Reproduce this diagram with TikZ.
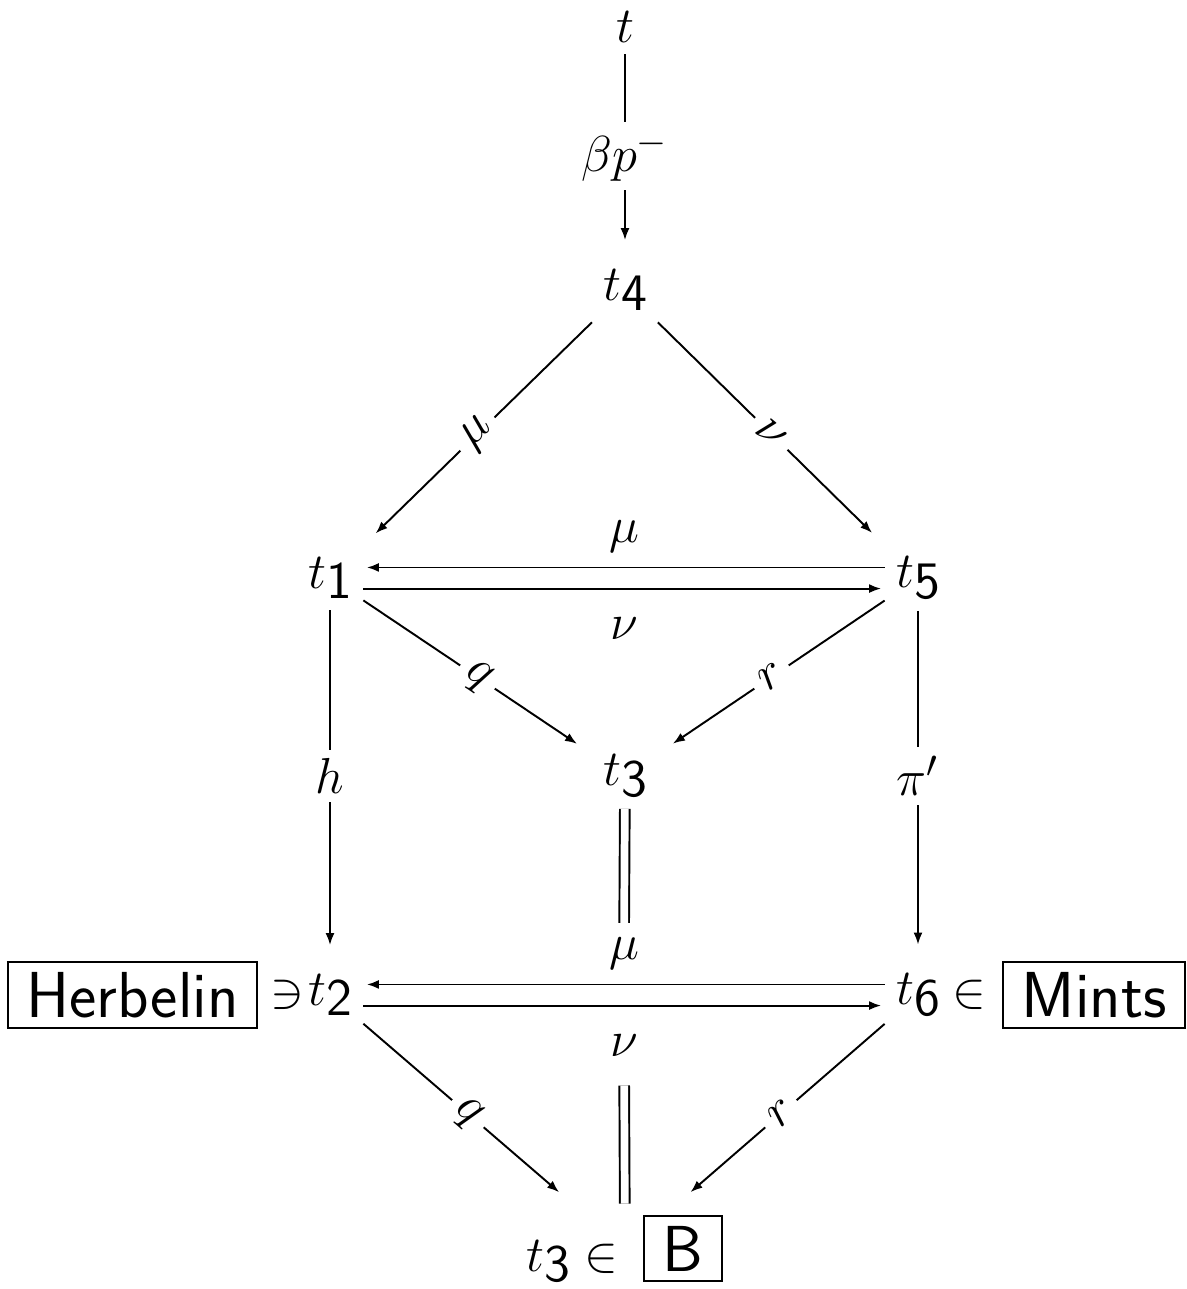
\documentclass[tikz,border=0pt]{standalone}
\usepackage{amsmath,amssymb}
\usepackage{xcolor}
\usepackage{tikz}
\usetikzlibrary{arrows.meta,positioning}

\newcommand{\dg}[1]{\raisebox{-0.2em}{\textsf{#1}}}
\newcommand{\bx}[1]{{\setlength{\fboxsep}{2.5pt}\setlength{\fboxrule}{0.6pt}\fbox{\hspace{2.5pt}\fontsize{18.5}{21}\sffamily #1\hspace{2.5pt}}}}

\begin{document}
\begin{tikzpicture}[
    every node/.style={font=\fontsize{15}{18}\selectfont},
    term/.style={inner sep=3pt},
    lab/.style={fill=white, inner sep=2.5pt},
    arr/.style={->, shorten >=5pt},
    dbl/.style={double, double distance=2.2pt},
    line width=0.55pt,
    >={Latex[length=1.2mm,width=0.9mm]}
]
\useasboundingbox (0,0) rectangle (11.87,-12.89);

% terms
\node[term] (t)   at (6.25,-0.27) {$t$};
\node[term] (t4)  at (6.25,-2.90) {$t\dg{4}$};
\node[term] (t1)  at (3.30,-5.78) {$t\dg{1}$};
\node[term] (t5)  at (9.18,-5.78) {$t\dg{5}$};
\node[term] (t3)  at (6.25,-7.76) {$t\dg{3}$};
\node[term] (t2)  at (3.30,-9.95) {$t\dg{2}$};
\node[term] (t6)  at (9.18,-9.95) {$t\dg{6}$};
\node[term] (t3b) at (6.25,-12.49) {$t\dg{3}\in{}$\hspace{3pt}\bx{B}};

% boxed systems
\node[inner xsep=0pt, left=-2.5pt of t2] (ni) {$\ni$};
\node[inner sep=0pt, left=3pt of ni] (herb) {\bx{Herbelin}};
\node[inner xsep=0pt, right=0pt of t6] (in) {$\in$};
\node[inner sep=0pt, right=4pt of in] (mints) {\bx{Mints}};

% arrows
\draw[arr] (t) -- node[lab] (bp) {$\beta p^-$} (t4);
\draw[arr] (t4) -- node[lab, sloped] (m1) {$\mu$} (t1);
\draw[arr] (t4) -- node[lab, sloped] (n1) {$\nu$} (t5);
\draw[arr, shorten >=1pt] ([yshift=3pt]t5.west) -- node[above, inner sep=4pt] (m2) {$\mu$} ([yshift=3pt]t1.east);
\draw[arr, shorten >=1pt] ([yshift=-3pt]t1.east) -- node[below, inner sep=8pt] (n2) {$\nu$} ([yshift=-3pt]t5.west);
\draw[arr] (t1) -- node[lab, sloped] (q1) {$q$} (t3);
\draw[arr] (t5) -- node[lab, sloped] (r1) {$r$} (t3);
\draw[arr] (t1) -- node[lab, pos=0.47] (h) {$h$} (t2);
\draw[arr] (t5) -- node[lab, pos=0.47] (pi) {$\pi'$} (t6);
\draw[arr, shorten >=1pt] ([yshift=3pt]t6.west) -- node[above, inner sep=4pt] (m3) {$\mu$} ([yshift=3pt]t2.east);
\draw[arr, shorten >=1pt] ([yshift=-3pt]t2.east) -- node[below, inner sep=8pt] (n3) {$\nu$} ([yshift=-3pt]t6.west);
\draw[arr] (t2) -- node[lab, sloped] (q2) {$q$} (t3b);
\draw[arr] (t6) -- node[lab, sloped] (r2) {$r$} (t3b);
\draw[dbl] (t3) -- (m3);
\draw[dbl] (n3) -- (t3b);

\end{tikzpicture}
\end{document}
